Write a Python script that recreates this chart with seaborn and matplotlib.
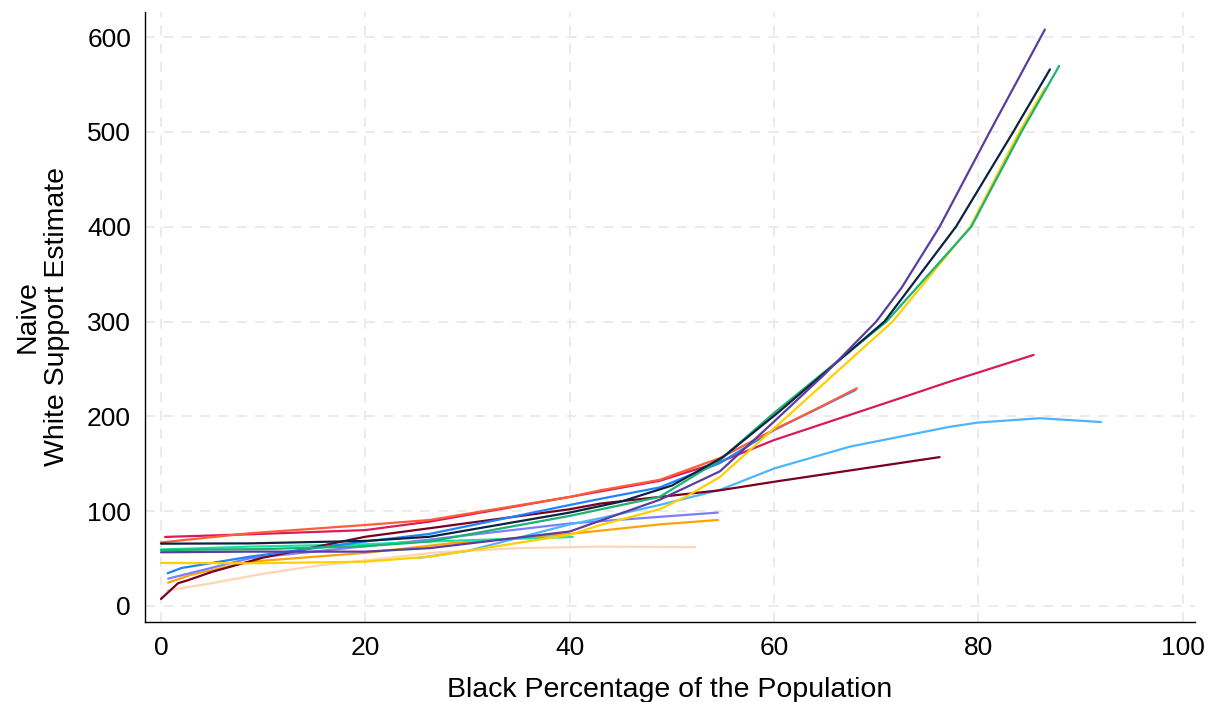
import matplotlib
matplotlib.use("Agg")
import matplotlib.pyplot as plt
import seaborn as sns
import pandas as pd

# Curves (x = black %, y = naive estimate)
purple_x = [0, 8.7, 20, 26.3, 40, 43, 48.8, 54.7, 60, 65, 70, 72.5, 76.2, 81.1, 86.5]
purple_y = [56.6, 57.3, 57.3, 61, 78.5, 90, 112, 142, 194.5, 245, 300, 336, 400, 500, 608]

navy_x = [0, 8.7, 20, 26.3, 40, 45, 50, 55, 60.5, 70.8, 77.8, 83.4, 87]
navy_y = [65.7, 66, 68.6, 73, 98.5, 110, 127, 157, 205, 300, 400, 500, 566]

green_x = [0, 10, 20, 26.3, 40, 48.8, 54.7, 60, 71, 79.3, 84.2, 87.9]
green_y = [59, 60, 63, 68, 95, 115, 154, 203.6, 300, 400, 500, 569.6]

yellow_x = [0, 8.7, 20, 26.3, 40, 43, 48.8, 51.5, 54.7, 60, 71.6, 79.2, 84, 86.5]
yellow_y = [45.4, 45, 46.7, 52, 75, 85.4, 102, 116, 136, 187.4, 300, 400, 500, 546]

tomato_x = [0, 8.7, 20, 26.3, 40, 43, 48.8, 54.7, 60, 64, 68.1]
tomato_y = [67, 76.7, 85.4, 90.7, 115, 122, 133, 156, 186, 207, 229.6]

blue_x = [0.65, 2, 8.7, 20, 26.3, 40, 43, 48.8, 54.7, 60, 68]
blue_y = [34.5, 40, 52, 68, 76, 106.5, 113, 125, 150.8, 185.6, 228]

crimson_x = [0.4, 8.7, 20, 26.3, 40, 48.8, 54.7, 60, 72.3, 77.2, 85.4]
crimson_y = [72.8, 75.6, 80, 89, 115, 132, 152, 175, 219, 236.7, 264.8]

skyblue_x = [25.2, 30, 40, 43, 48.8, 54.7, 60, 67.4, 77.2, 80, 86, 92]
skyblue_y = [50.6, 58, 86, 92.5, 106.5, 122.4, 145, 168, 189, 193.5, 198, 194]

maroon_x = [0, 1.67, 2.6, 5, 10, 20, 26.3, 40, 43, 48.8, 54.7, 60, 76.2]
maroon_y = [7.4, 24, 27, 36, 51, 73, 82, 102, 108, 115, 122, 131, 157]

periwinkle_x = [0.7, 3, 8.7, 20, 26.3, 40, 48.8, 54.5]
periwinkle_y = [28.8, 35, 50.3, 63, 70, 87, 94, 98.5]

orange_x = [0.7, 3, 8.7, 20, 28.3, 40, 48.8, 54.5]
orange_y = [24.6, 33, 46.7, 56, 66, 76, 86, 90.7]

peach_x = [0.55, 5, 10, 15, 20, 27, 35, 43, 52.3]
peach_y = [16.2, 24, 34, 42, 48, 56.5, 61, 62.6, 62]

mint_x = [0, 8.7, 20, 26.3, 35, 40.3]
mint_y = [59.5, 62.6, 65, 68, 71, 72.8]

series = {
    "peach": (peach_x, peach_y, "#ffd6b3"),
    "orange": (orange_x, orange_y, "#ffa20a"),
    "periwinkle": (periwinkle_x, periwinkle_y, "#7d7dff"),
    "mint": (mint_x, mint_y, "#12e6a0"),
    "skyblue": (skyblue_x, skyblue_y, "#4db5ff"),
    "maroon": (maroon_x, maroon_y, "#7a0020"),
    "crimson": (crimson_x, crimson_y, "#d81b5c"),
    "blue": (blue_x, blue_y, "#1f83ff"),
    "tomato": (tomato_x, tomato_y, "#ff5c38"),
    "yellow": (yellow_x, yellow_y, "#ffd000"),
    "green": (green_x, green_y, "#1cb373"),
    "navy": (navy_x, navy_y, "#0c2340"),
    "purple": (purple_x, purple_y, "#5b3ca0"),
}

rows = []
for name, (xs, ys, _) in series.items():
    for i, (x, y) in enumerate(zip(xs, ys)):
        rows.append({"series": name, "order": i, "pct": x, "est": y})
df = pd.DataFrame(rows)
palette = {name: c for name, (_, _, c) in series.items()}

sns.set_style("white")
plt.rcParams["font.family"] = ["Liberation Sans", "DejaVu Sans"]
plt.rcParams["text.color"] = "black"
plt.rcParams["axes.labelcolor"] = "black"
plt.rcParams["xtick.color"] = "black"
plt.rcParams["ytick.color"] = "black"

fig = plt.figure(figsize=(12.14, 7.02), dpi=100)
ax = fig.add_axes([0.1194, 0.114, 0.865, 0.869])

sns.lineplot(data=df, x="pct", y="est", hue="series", units="series",
             estimator=None, sort=False, palette=palette, hue_order=list(series),
             linewidth=1.6, legend=False, ax=ax)

ax.set_xlim(-1.57, 101.2)
ax.set_ylim(-16.9, 626.6)
ax.set_xticks([0, 20, 40, 60, 80, 100])
ax.set_yticks([0, 100, 200, 300, 400, 500, 600])
ax.grid(True, color="#e8e8e8", linestyle=(0, (6, 5)), linewidth=1.2)
ax.set_axisbelow(True)
for side in ["top", "right"]:
    ax.spines[side].set_visible(False)
for side in ["left", "bottom"]:
    ax.spines[side].set_color("black")
    ax.spines[side].set_linewidth(1.0)
ax.tick_params(axis="both", direction="out", length=6, width=1, color="black",
               labelcolor="black", labelsize=19, pad=4)
ax.set_xlabel("Black Percentage of the Population", fontsize=20.5, labelpad=12)
ax.set_ylabel("Naive\nWhite Support Estimate", fontsize=20.5, labelpad=12)

fig.savefig("out.png", dpi=100)
